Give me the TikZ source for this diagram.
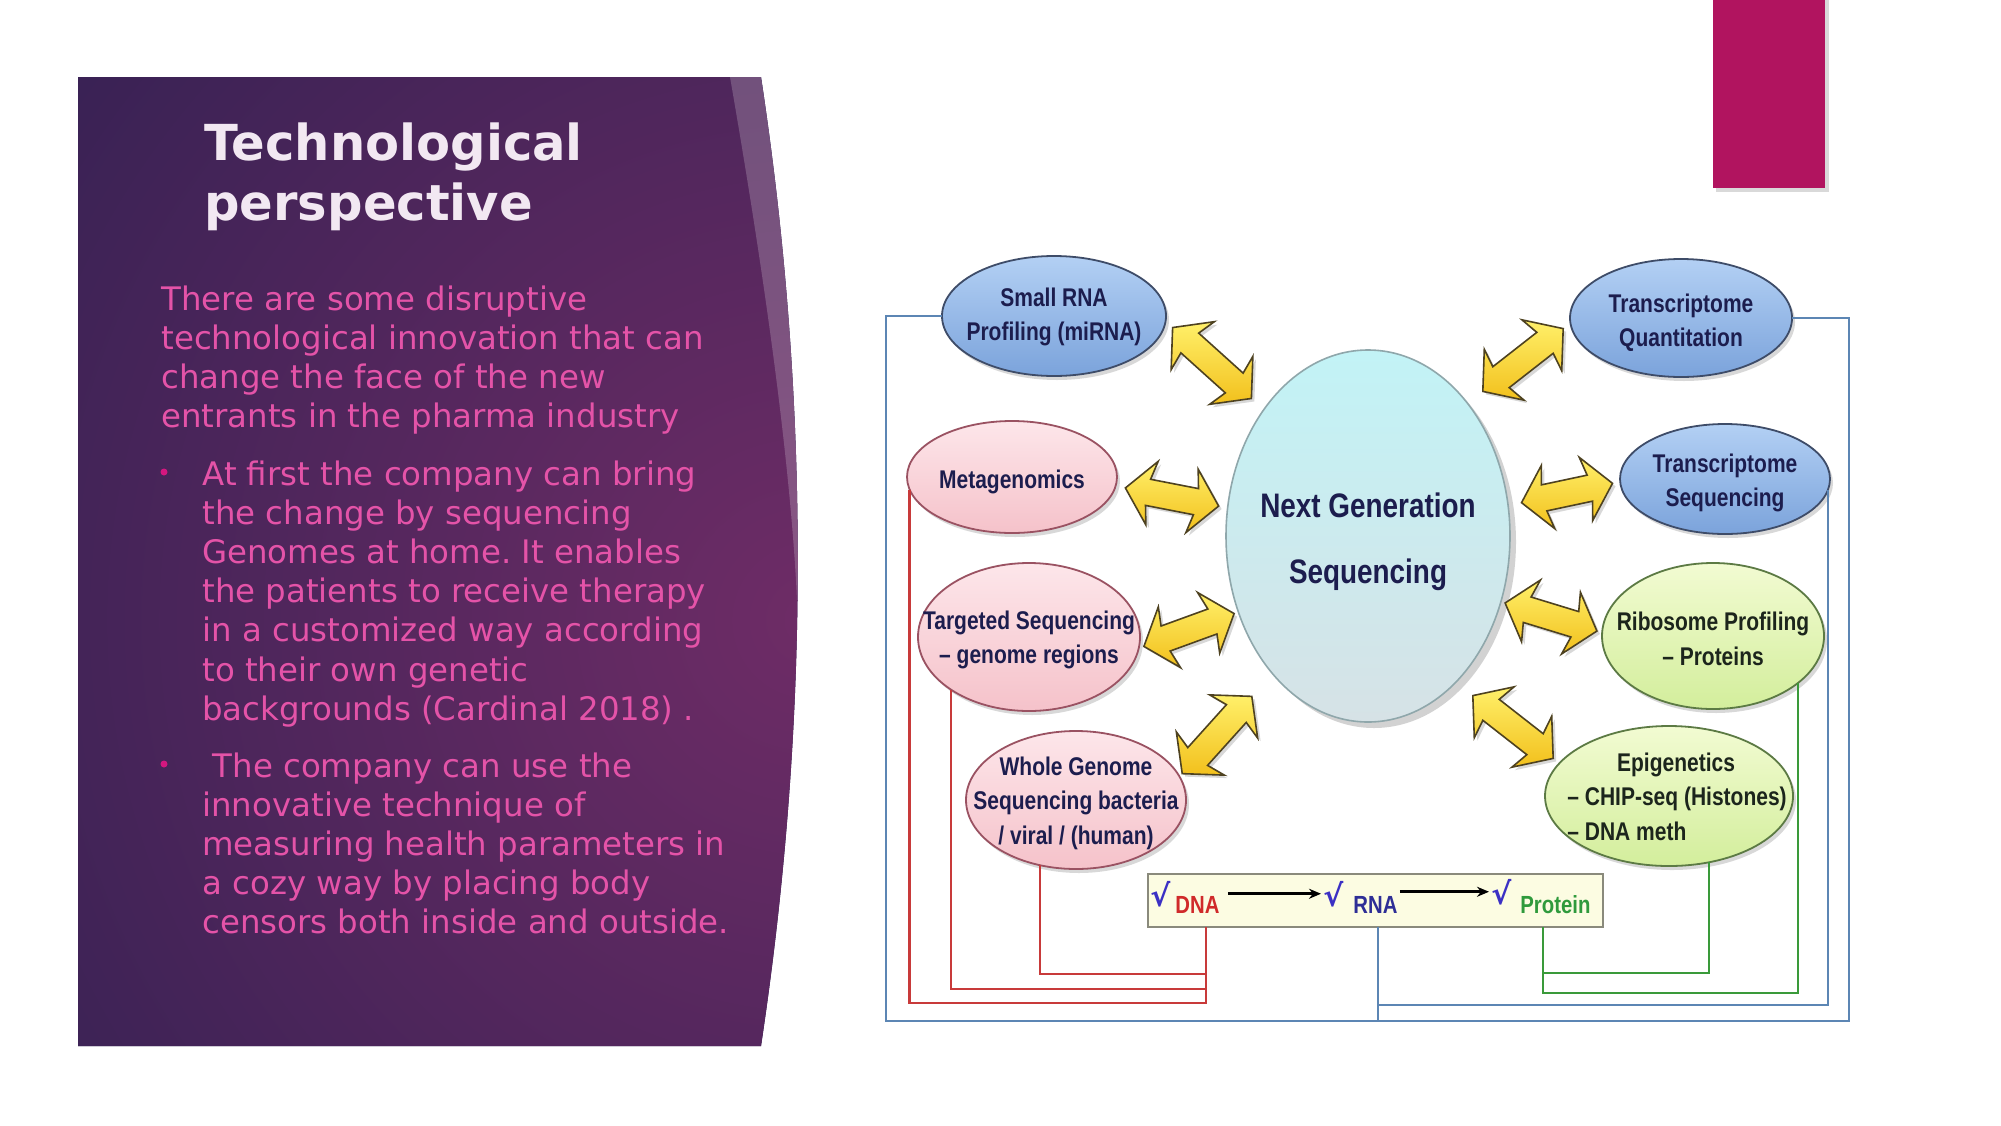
\documentclass[tikz,border=0pt]{standalone}
\usepackage{fontspec}
\setmainfont{DejaVu Sans}
\newfontfamily\dvsans{DejaVu Sans}
\newfontfamily\nar[FakeStretch=0.82]{Liberation Sans}
\usetikzlibrary{shapes.geometric,shapes.arrows,shadows,arrows.meta}
\definecolor{panelA}{HTML}{261E4E}
\definecolor{panelB}{HTML}{6E2C66}
\definecolor{titleC}{HTML}{F2E8F2}
\definecolor{bodyC}{HTML}{E453A8}
\definecolor{bulC}{HTML}{D4177F}
\definecolor{magC}{HTML}{B1145F}
\definecolor{ellBlueT}{HTML}{B3D0F4}
\definecolor{ellBlueB}{HTML}{7BA3DB}
\definecolor{ellBlueD}{HTML}{3E4C68}
\definecolor{ellPinkT}{HTML}{FDE6EA}
\definecolor{ellPinkB}{HTML}{F5C2CA}
\definecolor{ellPinkD}{HTML}{9A5262}
\definecolor{ellGreenT}{HTML}{F2FBD2}
\definecolor{ellGreenB}{HTML}{D3EE9C}
\definecolor{ellGreenD}{HTML}{5C7A44}
\definecolor{ngsT}{HTML}{C2F3F6}
\definecolor{ngsB}{HTML}{D6E2E6}
\definecolor{ngsD}{HTML}{8FA7AB}
\definecolor{lblNavy}{HTML}{1C1D4E}
\definecolor{lblDark}{HTML}{1C251C}
\definecolor{arrT}{HTML}{FFF06A}
\definecolor{arrB}{HTML}{F2C01C}
\definecolor{arrD}{HTML}{4E4220}
\definecolor{boxD}{HTML}{8A8A7C}
\definecolor{boxF}{HTML}{FCFCE2}
\definecolor{chkC}{HTML}{3B30C4}
\definecolor{dnaC}{HTML}{D02A2A}
\definecolor{rnaC}{HTML}{2E2E96}
\definecolor{protC}{HTML}{2F9A3C}
\definecolor{lnBlue}{HTML}{5C86B4}
\definecolor{lnRed}{HTML}{C83A3A}
\definecolor{lnGreen}{HTML}{3A9A3A}
\begin{document}
\frenchspacing
\begin{tikzpicture}[x=0.5pt,y=-0.5pt,
  ell/.style={ellipse, inner sep=0pt, outer sep=0pt, line width=0.9pt,
    drop shadow={shadow xshift=1.5pt, shadow yshift=-2pt, opacity=0.3}},
  blueE/.style={ell, draw=ellBlueD, top color=ellBlueT, bottom color=ellBlueB},
  pinkE/.style={ell, draw=ellPinkD, top color=ellPinkT, bottom color=ellPinkB},
  greenE/.style={ell, draw=ellGreenD, top color=ellGreenT, bottom color=ellGreenB},
  ngsE/.style={ellipse, inner sep=0pt, outer sep=0pt, line width=0.8pt, draw=ngsD,
    top color=ngsT, bottom color=ngsB,
    drop shadow={shadow xshift=3pt, shadow yshift=-3pt, opacity=0.35}},
  lbl/.style={font=\nar\bfseries\fontsize{12.8}{17.2}\selectfont, text=lblNavy, align=center, inner sep=0pt},
  yarr/.style={double arrow, double arrow head extend=9.5pt, double arrow tip angle=100,
    double arrow head indent=2pt, minimum width=31pt, inner xsep=0pt, inner ysep=6.25pt,
    text height=0pt, text depth=0pt, outer sep=0pt,
    draw=arrD, line width=0.8pt, top color=arrT, bottom color=arrB,
    drop shadow={shadow xshift=1.5pt, shadow yshift=-1.5pt, opacity=0.3}},
  bl/.style={draw=lnBlue, line width=1.3pt},
  rd/.style={draw=lnRed, line width=1.3pt},
  gr/.style={draw=lnGreen, line width=1.3pt},
  chk/.style={font=\dvsans\bfseries\fontsize{15}{17}\selectfont, text=chkC, inner sep=0pt},
  dtxt/.style={font=\nar\bfseries\fontsize{12.4}{15}\selectfont, inner sep=0pt},
  flow/.style={draw=black, line width=1.4pt, -{Stealth[length=6pt,width=5pt]}},
  body/.style={font=\fontsize{16.2}{19.6}\selectfont, text=bodyC, inner sep=0pt},
  ttl/.style={font=\bfseries\fontsize{24.8}{30}\selectfont, text=titleC, inner sep=0pt},
  bul/.style={circle, fill=bulC, inner sep=0pt, minimum size=3.5pt}
]
\useasboundingbox (0,0) rectangle (2001,1125);
\fill[white] (0,0) rectangle (2001,1125);

% ---------- left panel ----------
\begin{scope}
  \clip (78,77) -- (761,77) .. controls (810,400) and (810,720) .. (761,1046) -- (78,1046) -- cycle;
  \fill[panelA] (0,0) rectangle (900,1125);
  \shade[inner color=panelB, outer color=panelA] (810,620) circle[radius=1250];
  \fill[white, opacity=0.2] (730,77) .. controls (760,250) and (790,450) .. (797,600) -- (900,600) -- (900,0) -- (730,0) -- cycle;
\end{scope}

\node[ttl, anchor=base west] (title) at (204,160)
  {\begin{tabular}[t]{@{}l@{}}Technological\\perspective\end{tabular}};

\node[body, anchor=base west] (p1) at (161,310)
  {\begin{tabular}[t]{@{}l@{}}There are some disruptive\\technological innovation that can\\change the face of the new\\entrants in the pharma industry\end{tabular}};

\node[bul] (b1) at (164,472) {};
\node[body, anchor=base west] (p2) at (202,485)
  {\begin{tabular}[t]{@{}l@{}}At first the company can bring\\the change by sequencing\\Genomes at home. It enables\\the patients to receive therapy\\in a customized way according\\to their own genetic\\backgrounds (Cardinal 2018) .\end{tabular}};

\node[bul] (b2) at (164,764) {};
\node[body, anchor=base west] (p3) at (202,777)
  {\begin{tabular}[t]{@{}l@{}}\ The company can use the\\innovative technique of\\measuring health parameters in\\a cozy way by placing body\\censors both inside and outside.\end{tabular}};

% ---------- magenta tab ----------
\fill[black, opacity=0.15] (1716,0) rectangle (1829,192);
\fill[magC] (1713,0) rectangle (1825,188);

% ---------- diagram ellipses ----------
\node[ngsE, minimum width=142pt, minimum height=186pt] (ngs) at (1368,536) {};
\node[blueE, minimum width=112pt, minimum height=60pt] (srna) at (1054,316) {};
\node[pinkE, minimum width=105pt, minimum height=56pt] (meta) at (1012,477) {};
\node[pinkE, minimum width=111pt, minimum height=74pt] (targ) at (1029,637) {};
\node[pinkE, minimum width=110pt, minimum height=69pt] (wgs) at (1076,800) {};
\node[blueE, minimum width=111pt, minimum height=59pt] (tq) at (1681,318) {};
\node[blueE, minimum width=105pt, minimum height=55pt] (ts) at (1725,479) {};
\node[greenE, minimum width=111pt, minimum height=73pt] (ribo) at (1713,636) {};
\node[greenE, minimum width=124pt, minimum height=70pt] (epi) at (1669,796) {};

% ---------- yellow double arrows ----------
\node[yarr, rotate=-42, minimum height=53pt] (a1) at (1212,363) {};
\node[yarr, rotate=-11, minimum height=47.5pt] (a2) at (1172,497) {};
\node[yarr, rotate=20, minimum height=48pt] (a3) at (1189,630) {};
\node[yarr, rotate=48, minimum height=52pt] (a4) at (1217,735) {};
\node[yarr, rotate=38, minimum height=51pt] (a5) at (1523,360) {};
\node[yarr, rotate=12, minimum height=46.5pt] (a6) at (1567,493) {};
\node[yarr, rotate=-17, minimum height=48pt] (a7) at (1551,617) {};
\node[yarr, rotate=-38, minimum height=51pt] (a8) at (1513,727) {};

% ---------- labels ----------
\node[lbl] (srnaT) at (1054,317) {Small RNA\\Profiling (miRNA)};
\node[lbl] (metaT) at (1012,482) {Metagenomics};
\node[lbl] (targT) at (1029,640) {Targeted Sequencing\\– genome regions};
\node[lbl] (wgsT) at (1076,803) {Whole Genome\\Sequencing bacteria\\/ viral / (human)};
\node[lbl, font=\nar\bfseries\fontsize{17}{33}\selectfont] (ngsT) at (1368,542) {Next Generation\\Sequencing};
\node[lbl] (tqT) at (1681,323) {Transcriptome\\Quantitation};
\node[lbl] (tsT) at (1725,483) {Transcriptome\\Sequencing};
\node[lbl, text=lblDark] (riboT) at (1713,639) {Ribosome Profiling\\– Proteins};
\node[lbl, text=lblDark] (epiT1) at (1676,765) {Epigenetics};
\node[lbl, text=lblDark, align=left, anchor=west] (epiT2) at (1567,814) {– CHIP-seq (Histones)\\– DNA meth};

% ---------- DNA -> RNA -> Protein box ----------
\node[draw=boxD, fill=boxF, line width=0.8pt, minimum width=227.5pt, minimum height=26.5pt, inner sep=0pt] (box) at (1375.5,900.5) {};
\node[chk, anchor=base west] (c1) at (1150,906) {√};
\node[dtxt, text=dnaC, anchor=base west] (dnaT) at (1175,913) {DNA};
\node[chk, anchor=base west] (c2) at (1323,906) {√};
\node[dtxt, text=rnaC, anchor=base west] (rnaT) at (1353,913) {RNA};
\node[chk, anchor=base west] (c3) at (1491,904) {√};
\node[dtxt, text=protC, anchor=base west] (protT) at (1520,913) {Protein};
\draw[flow] ([xshift=4pt]dnaT.east |- c2.west) -- ([xshift=-1pt]c2.west);
\draw[flow] ([xshift=1pt]rnaT.east |- c3.west) -- ([xshift=-1pt]c3.west);

% ---------- connectors ----------
\coordinate (pD) at (1206,927);
\coordinate (pR) at (1378,927);
\coordinate (pP) at (1543,927);
\coordinate (r1) at (1206,974);
\coordinate (r2) at (1206,989);
\coordinate (r3) at (1206,1003);
\coordinate (bI) at (1378,1005);
\coordinate (bL) at (886,1021);
\coordinate (bR) at (1849,1021);
\coordinate (g1) at (1543,973);
\coordinate (g2) at (1543,993);

\draw[bl] (srna.west) -| (bL) -- (bR) |- (tq.east);
\draw[bl] (ts.-6) |- (bI);
\draw[bl] (pR) -- (pR |- bL);
\draw[rd] (wgs.241) |- (r1);
\draw[rd] (targ.214) |- (r2);
\draw[rd] (meta.187) |- (r3) -- (pD);
\draw[gr] (epi.-59) |- (g1);
\draw[gr] (ribo.-29) |- (g2) -- (pP);
\end{tikzpicture}
\end{document}
